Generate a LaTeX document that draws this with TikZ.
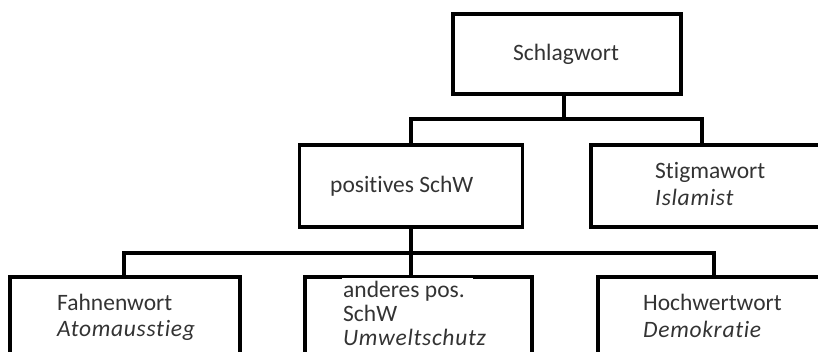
\documentclass[tikz,border=0pt]{standalone}
\usepackage{fontspec}
\setmainfont{Carlito}[Ligatures=NoCommon]
\begin{document}
\begin{tikzpicture}[x=1pt,y=-1pt,
  box/.style={draw=black,line width=3.2pt,rectangle,inner sep=0pt},
  conn/.style={draw=black,line width=3.2pt},
  lbl/.style={anchor=base west,inner sep=0pt,font=\fontsize{23.5}{28}\selectfont,text=black!80},
  ilbl/.style={lbl,font=\fontsize{23.5}{28}\selectfont\itshape\addfontfeature{LetterSpace=3}}]
\useasboundingbox (0,0) rectangle (818,351);
\clip (0,0) rectangle (818,351);
% boxes
\node[box,minimum width=228pt,minimum height=80pt] (top) at (567,54) {};
\node[box,minimum width=223pt,minimum height=82pt] (pos) at (411,186) {};
\node[box,minimum width=260pt,minimum height=82pt] (stig) at (721,186) {};
\node[box,minimum width=230pt,minimum height=120pt] (fahn) at (125,337) {};
\node[box,minimum width=227pt,minimum height=120pt] (and) at (418.5,337) {};
\node[box,minimum width=260pt,minimum height=120pt] (hoch) at (728,337) {};
% white patch behind the first text line of the middle box
\fill[white] (342,278.4) rectangle (473,300);
% texts
\node[lbl,anchor=base] (tSch) at (566,60) {Schlagwort};
\node[lbl] (tPos) at (330,192) {positives SchW};
\node[lbl] (tStig) at (655,178) {Stigmawort};
\node[ilbl] (tIsl) at (655,205) {Islamist};
\node[lbl] (tFahn) at (57,310) {Fahnenwort};
\node[ilbl] (tAtom) at (57,336) {Atomausstieg};
\node[lbl] (tAnd1) at (343,297) {anderes pos.};
\node[lbl] (tAnd2) at (343,321) {SchW};
\node[ilbl] (tUmw) at (343,345) {Umweltschutz};
\node[lbl] (tHoch) at (643,310) {Hochwertwort};
\node[ilbl] (tDem) at (643,337) {Demokratie};
% connector points
\coordinate (j1) at (564,119);
\coordinate (s1) at (702,145);
\coordinate (j2) at (411,253);
\coordinate (f1) at (124,277);
\coordinate (h1) at (714,277);
% connectors
\draw[conn] ([xshift=-3pt]top.south) -- (j1);
\draw[conn] (pos.north) |- (j1) -| (s1);
\draw[conn] (pos.south) -- (j2);
\draw[conn] (f1) |- (j2) -| (h1);
\draw[conn] (j2) -- (and.north -| j2);
\end{tikzpicture}
\end{document}
